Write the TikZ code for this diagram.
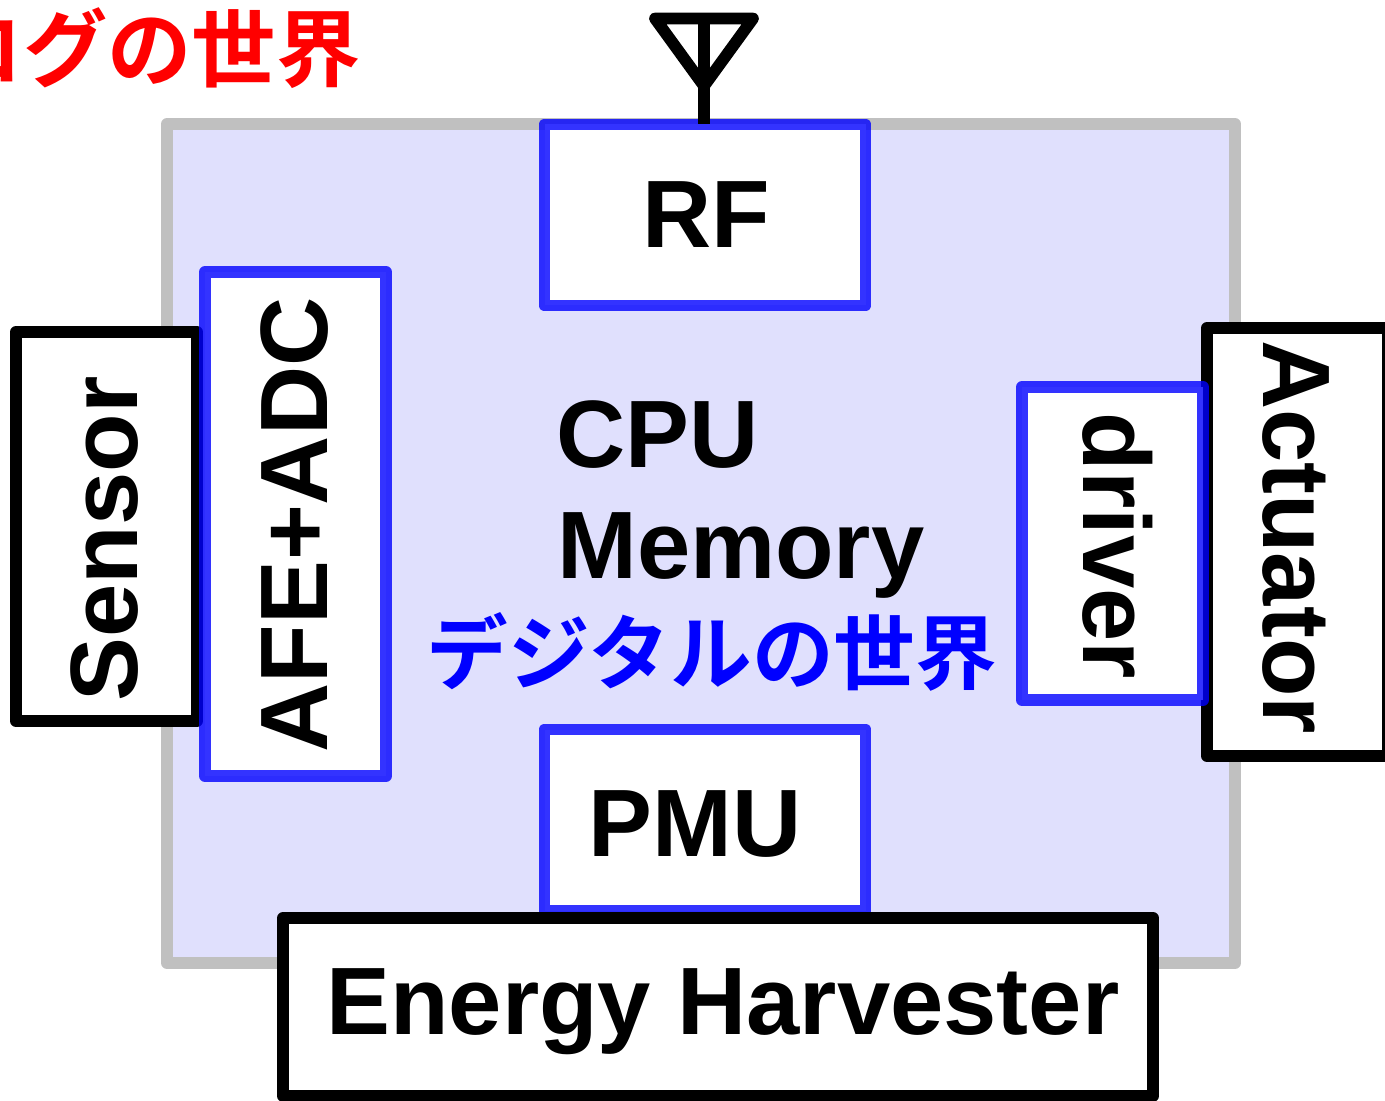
\documentclass[tikz,border=0pt]{standalone}
\usepackage{fontspec}
\setmainfont{Liberation Sans}
\newfontfamily\cjk{Noto Sans CJK JP}[BoldFont={* Bold}]
\definecolor{boardfill}{RGB}{224,224,253}
\definecolor{boardline}{RGB}{192,192,192}
\tikzstyle{board} = [draw=boardline,fill=boardfill,line width=0.235cm,line join=round,inner sep=0pt,outer sep=0pt]
\tikzstyle{inner block} = [draw=blue,draw opacity=0.8,fill=white,line width=0.235cm,line join=round,inner sep=0pt,outer sep=0pt]
\tikzstyle{outer block} = [draw=black,fill=white,line width=0.235cm,line join=round,inner sep=0pt,outer sep=0pt]
\tikzstyle{label} = [font=\fontsize{54.5}{54.5}\selectfont\bfseries,inner sep=0pt]
\tikzstyle{jlabel} = [font=\cjk\fontsize{46.5}{46.5}\selectfont\bfseries,inner sep=0pt]
\tikzstyle{redlabel} = [font=\cjk\fontsize{48}{48}\selectfont\bfseries,inner sep=0pt]
\tikzstyle{antenna} = [draw=black,line width=0.235cm,line cap=round,line join=round]
\begin{document}
\begin{tikzpicture}[x=0.02cm,y=-0.02cm]
      \useasboundingbox (0,0) rectangle (1385,1101);
      \clip (0,0) rectangle (1385,1101);
      %blocks
      \foreach \nodename/\x/\y/\w/\h/\style in {
        chip/701/543.5/1068/839/board,
        sensor/106.5/526.5/181/389/outer block,
        actuator/1297.5/542/181/428/outer block,
        rf/705/215/321/181/inner block,
        pmu/705/820/321/181/inner block,
        afe/295.5/524/181/504/inner block,
        drv/1112.5/543.5/181/313/inner block,
        harvester/718/1007/870/178/outer block}
      {
        \node[\style,minimum width=\w*0.02cm,minimum height=\h*0.02cm] (\nodename) at (\x,\y) {};
      };
      %texts
      \node[label] (rftext) at (706,215) {RF};
      \node[label] (pmutext) at (695,824) {PMU};
      \node[label,rotate=90] (afetext) at (295,525) {AFE+ADC};
      \node[label,rotate=90] (sensortext) at (105,539) {Sensor};
      \node[label,rotate=-90] (drvtext) at (1118,546) {driver};
      \node[label,rotate=-90] (acttext) at (1296,537) {Actuator};
      \node[label] (harvtext) at (723,1012) {Energy Harvester};
      \node[label,anchor=west] (cputext) at (556,435) {CPU};
      \node[label,anchor=west] (memtext) at (557,555) {Memory};
      \node[jlabel,text=blue] (digital) at (712,652) {デジタルの世界};
      \node[redlabel,text=red,anchor=east] (analog) at (361,48) {アナログの世界};
      %antenna
      \coordinate (tipleft) at (655,18.5);
      \coordinate (tipright) at (753,18.5);
      \coordinate (foot) at (704,86);
      \draw[antenna] (tipleft) -- (tipright) -- (foot) -- cycle;
      \draw[draw=black,line width=0.235cm] (704,18.5) -- (foot) -- (rf.north -| foot);
    \end{tikzpicture}
\end{document}
